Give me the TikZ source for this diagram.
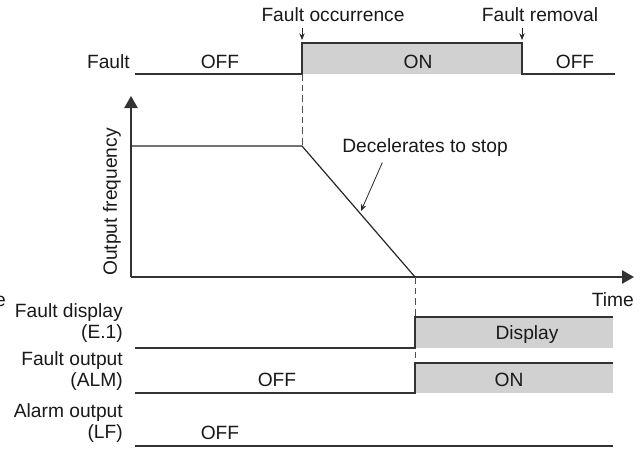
\documentclass[tikz,border=0pt]{standalone}
\usepackage{fontspec}
\setmainfont{Liberation Sans}
\usetikzlibrary{arrows.meta}

\begin{document}
\begin{tikzpicture}[x=0.75pt,y=-0.75pt,font=\fontsize{14.4}{16}\selectfont,
  sig/.style={line width=1.2pt, draw=black!80},
  onfill/.style={fill=black!18},
  guide/.style={line width=0.6pt, draw=black!70, dash pattern=on 5pt off 3pt},
  axis/.style={line width=1.2pt, draw=black!80, -{Triangle[width=10pt,length=9pt]}},
  pointer/.style={line width=0.6pt, draw=black!85, -{Stealth[width=4pt,length=5pt]}},
  lbl/.style={inner sep=0pt, text=black!90},
  tag/.style={inner sep=0pt, text=black!90, anchor=east, align=right}]
  \useasboundingbox (0,0) rectangle (641,450);
  % fault input
  \fill[onfill] (302,43) rectangle (522,74);
  \draw[sig] (135,74) -- (302,74) -- (302,43) -- (522,43) -- (522,74) -- (615,74);
  \node[tag] (fault) at (130,62) {Fault};
  \node[lbl] (off1) at (220,62) {OFF};
  \node[lbl] (on1) at (418,62) {ON};
  \node[lbl] (off2) at (575,62) {OFF};
  \node[lbl] (occ) at (333,15) {Fault occurrence};
  \node[lbl] (rem) at (540,15) {Fault removal};
  \coordinate (occtip) at (302,40);
  \coordinate (remtip) at (522,40);
  \draw[pointer] (occtip |- occ.south) ++(0,6) -- (occtip);
  \draw[pointer] (remtip |- rem.south) ++(0,6) -- (remtip);
  % output frequency
  \coordinate (org) at (131,277);
  \coordinate (stop) at (415,277);
  \draw[guide] (302,74) -- (302,146);
  \draw[axis] (org) -- (131,96);
  \draw[axis] (org) -- (634,277);
  \draw[line width=0.9pt, draw=black!85] (131,146) -- (302,146) -- (stop);
  \node[lbl, rotate=90] (ofreq) at (112,202) {Output frequency};
  \node[lbl] (dec) at (425,148) {Decelerates to stop};
  \coordinate (slope) at (361,211);
  \draw[pointer] ([xshift=-32pt,yshift=-4pt]dec.south) -- (slope);
  \node[lbl, anchor=east] (time) at (634,300) {Time};
  \node[lbl, anchor=east] (cut) at (6,301) {e};
  % fault display and outputs
  \draw[guide] (stop) -- (415,363);
  \fill[onfill] (415,317) rectangle (613,348);
  \draw[sig] (135,348) -- (415,348) -- (415,317) -- (613,317);
  \fill[onfill] (415,363) rectangle (613,393);
  \draw[sig] (135,393) -- (415,393) -- (415,363) -- (613,363);
  \draw[sig] (135,446) -- (613,446);
  \node[tag] (disp) at (123,323) {Fault display\\(E.1)};
  \node[lbl] (dispon) at (527,335) {Display};
  \node[tag] (alm) at (123,371) {Fault output\\(ALM)};
  \node[lbl] (off3) at (277,380) {OFF};
  \node[lbl] (on3) at (509,380) {ON};
  \node[tag] (lf) at (123,423) {Alarm output\\(LF)};
  \node[lbl] (off4) at (220,433) {OFF};
\end{tikzpicture}
\end{document}
